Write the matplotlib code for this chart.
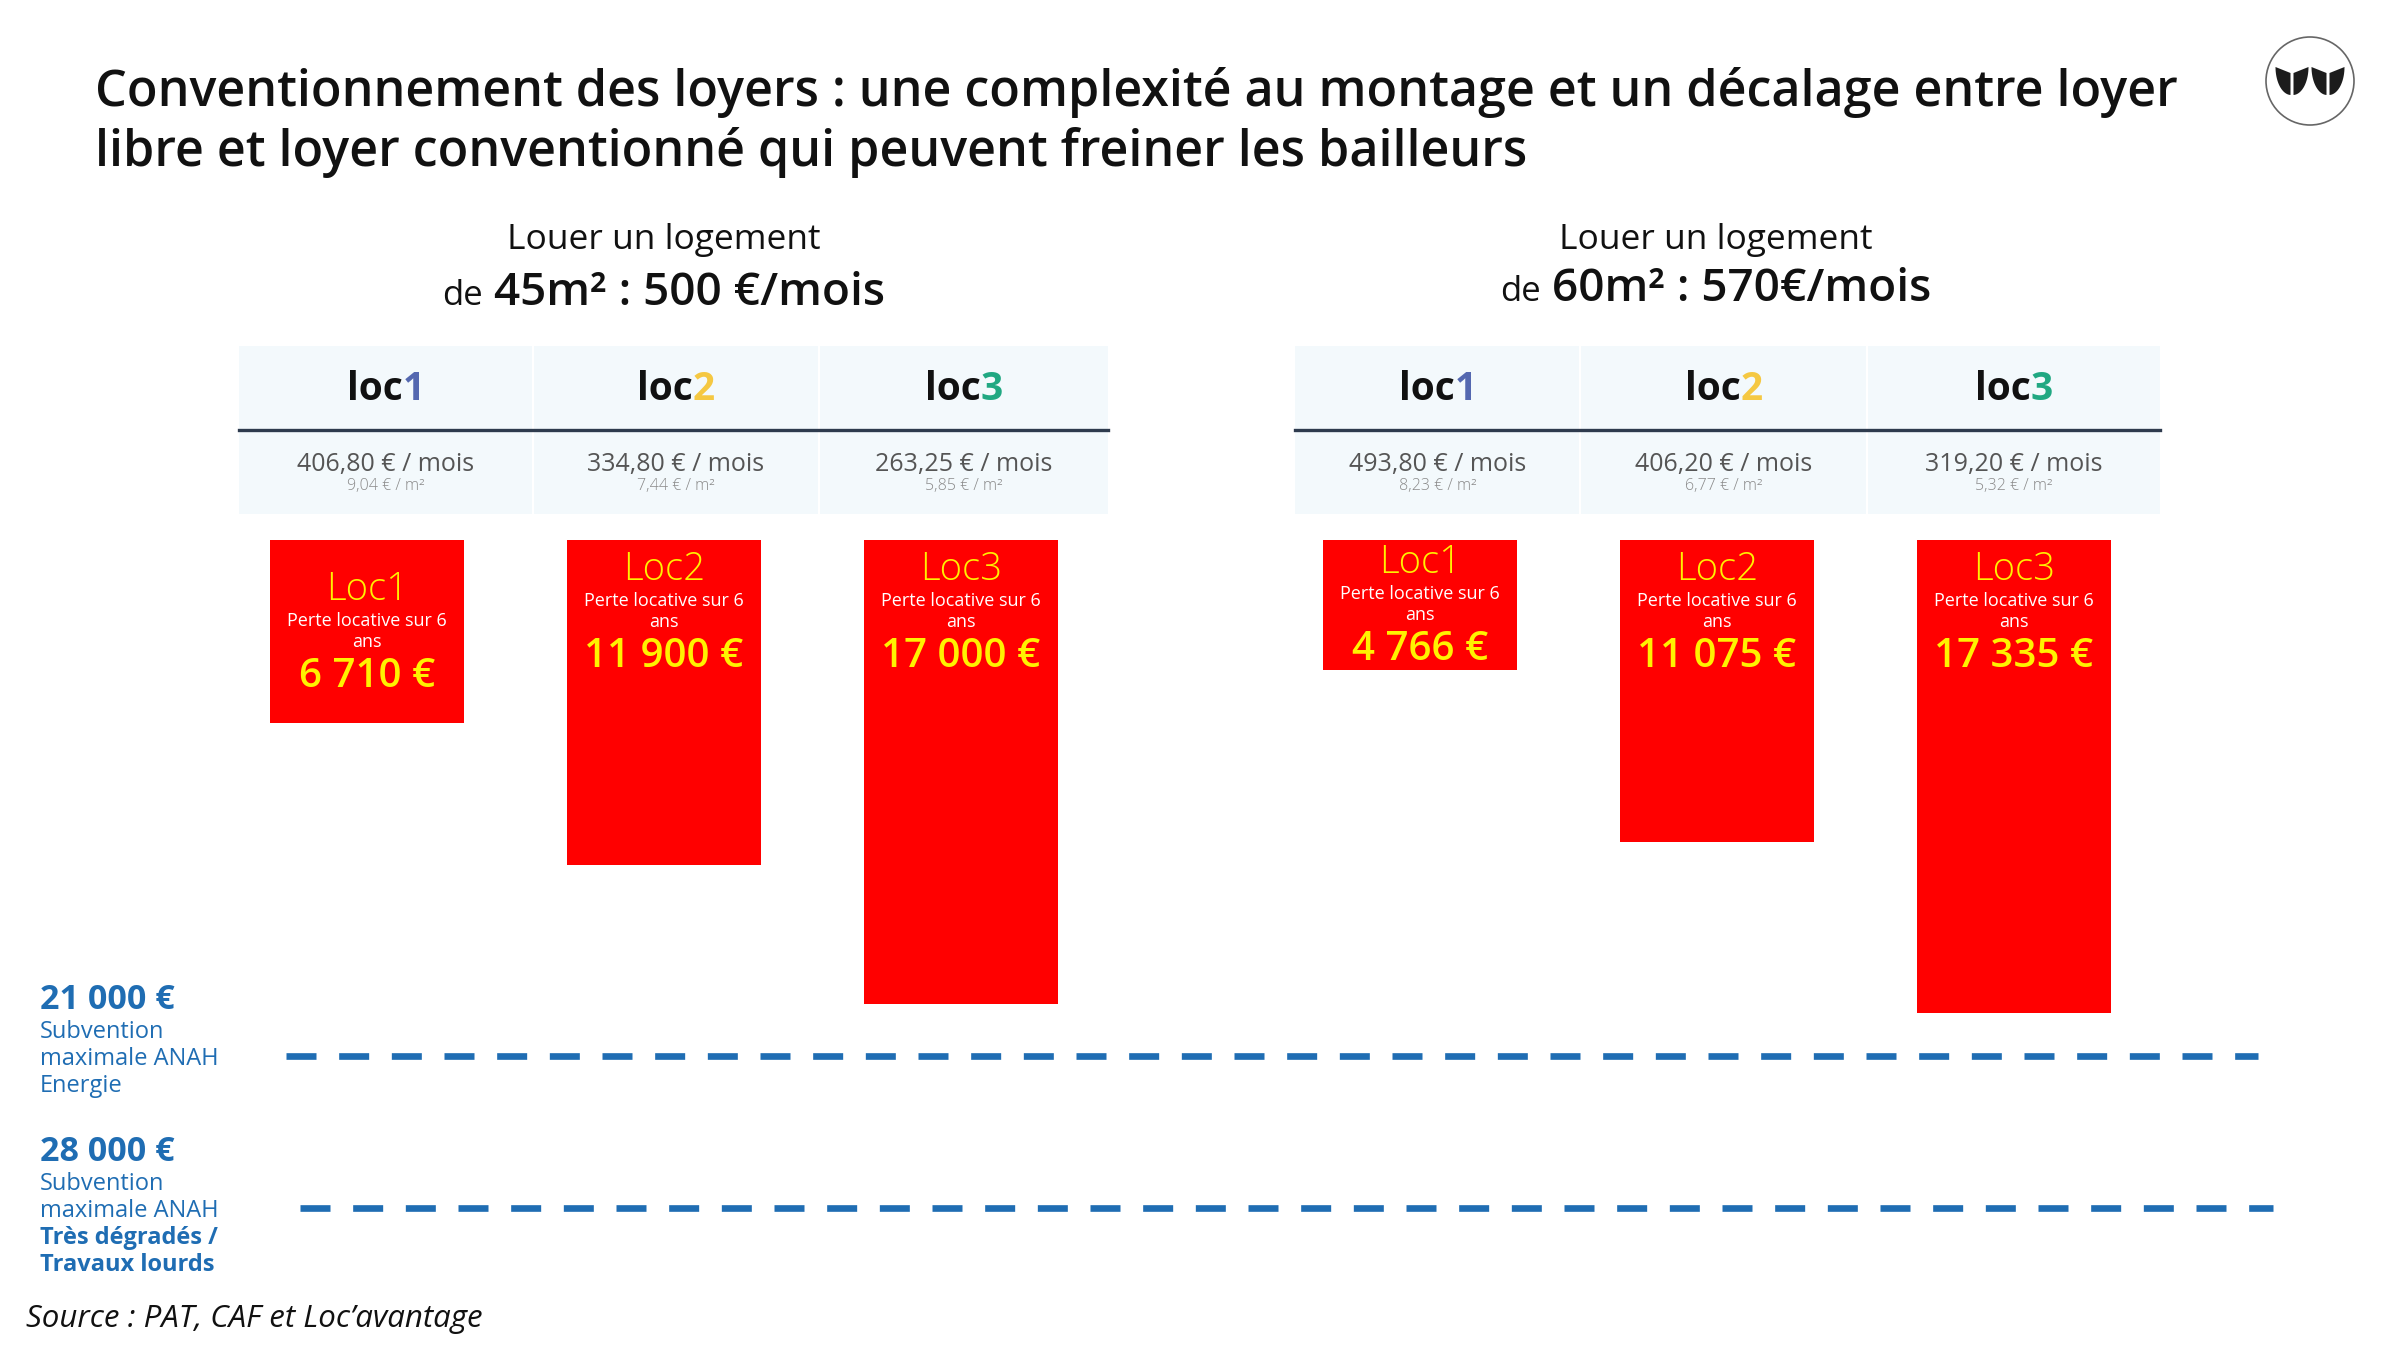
import numpy as np
import matplotlib
matplotlib.use('Agg')
import matplotlib.pyplot as plt
from matplotlib.patches import Rectangle, Circle, Polygon

plt.rcParams['font.family'] = ['Open Sans', 'DejaVu Sans']

# ---- data ----
title_lines = ['Conventionnement des loyers : une complexité au montage et un décalage entre loyer',
               'libre et loyer conventionné qui peuvent freiner les bailleurs']
section_top = 'Louer un logement'
section_sizes = ['45m² : 500 €/mois', '60m² : 570€/mois']
loc_names = ['loc', 'loc', 'loc']
loc_digits = ['1', '2', '3']
loc_digit_colors = ['#5468B0', '#F5C842', '#20A882']
bar_titles = ['Loc1', 'Loc2', 'Loc3']
rent_month_45 = [406.80, 334.80, 263.25]
rent_m2_45 = [9.04, 7.44, 5.85]
rent_month_60 = [493.80, 406.20, 319.20]
rent_m2_60 = [8.23, 6.77, 5.32]
loss_45 = [6710, 11900, 17000]
loss_60 = [4766, 11075, 17335]
subsidy_values = [21000, 28000]
subsidy_lines = [['Subvention', 'maximale ANAH', 'Energie'],
                 ['Subvention', 'maximale ANAH', 'Très dégradés /', 'Travaux lourds']]
subsidy_bold = [[False, False, False], [False, False, True, True]]
source = 'Source : PAT, CAF et Loc’avantage'

W, H = 2400, 1350
fig = plt.figure(figsize=(24, 13.5), dpi=100)
fig.patch.set_facecolor('white')
R = fig.canvas.get_renderer()


def fx(px):
    return px / W


def fy(py):
    return 1 - py / H


def fmt_dec(v):
    return f'{v:.2f}'.replace('.', ',')


def fmt_eur(v):
    return f'{v:,}'.replace(',', ' ') + ' €'


def parts_centered(xc, y, parts, gap=0):
    # several text pieces on one baseline, centred as a group
    texts, widths = [], []
    for s, kw in parts:
        t = fig.text(0, fy(y), s, ha='left', va='baseline', **kw)
        texts.append(t)
        widths.append(t.get_window_extent(R).width)
    total = sum(widths) + gap * (len(parts) - 1)
    cur = xc - total / 2
    for t, w in zip(texts, widths):
        t.set_x(fx(cur))
        cur += w + gap


# ---- title (size fitted to the reference line width) ----
t0 = fig.text(fx(95), fy(92), title_lines[0], fontsize=30, fontweight='semibold',
              color='#111111', va='center', ha='left')
title_size = 30 * (2180 - 95) / t0.get_window_extent(R).width
t0.set_fontsize(title_size)
fig.text(fx(95), fy(153), title_lines[1], fontsize=title_size, fontweight='semibold',
         color='#111111', va='center', ha='left')

# ---- logo ----
lax = fig.add_axes([fx(2260), fy(131), 100 / W, 100 / H])
lax.set_xlim(-1, 1)
lax.set_ylim(-1, 1)
lax.set_aspect('equal')
lax.axis('off')
lax.add_patch(Circle((0, 0), 0.88, facecolor='white', edgecolor='#666666', lw=1.2))
th = np.linspace(0, np.pi / 2, 20)
for cx in (-0.36, 0.36):
    for side in (-1, 1):
        xs = cx + side * (0.33 - 0.31 * (1 - np.cos(th)))
        ys = 0.28 - 0.56 * np.sin(th)
        pts = np.column_stack([xs, ys])
        pts = np.vstack([pts, [cx + side * 0.03, -0.28], [cx + side * 0.03, 0.16]])
        lax.add_patch(Polygon(pts, closed=True, color='#1c1c1c', lw=0))

# ---- section headings and tables ----
tables = [(239, 1108, 533, 819), (1295, 2160, 1580, 1867)]
heading_x = [664, 1716]
heading_y = [305, 301]
rents = [(rent_month_45, rent_m2_45), (rent_month_60, rent_m2_60)]
for g, (x0, x1, b1, b2) in enumerate(tables):
    fig.text(fx(heading_x[g]), fy(240), section_top, fontsize=25.5, ha='center',
             va='center', color='#111111')
    parts_centered(heading_x[g], heading_y[g],
                   [('de', dict(fontsize=25, color='#111111')),
                    (section_sizes[g], dict(fontsize=33, fontweight='semibold', color='#111111'))],
                   gap=11)
    fig.add_artist(Rectangle((fx(x0), fy(514)), (x1 - x0) / W, 168 / H,
                             transform=fig.transFigure, facecolor='#F3F9FC', edgecolor='none'))
    for b in (b1, b2):
        fig.add_artist(plt.Line2D([fx(b), fx(b)], [fy(346), fy(514)], color='white', lw=1.5))
    fig.add_artist(plt.Line2D([fx(x0), fx(x1)], [fy(430), fy(430)], color='#2E3B4E', lw=2.4))
    bounds = [x0, b1, b2, x1]
    months, m2 = rents[g]
    for i in range(3):
        xc = (bounds[i] + bounds[i + 1]) / 2
        parts_centered(xc, 400, [(loc_names[i], dict(fontsize=28, fontweight='bold', color='#111111')),
                                 (loc_digits[i], dict(fontsize=28, fontweight='bold',
                                                      color=loc_digit_colors[i]))])
        fig.text(fx(xc), fy(465), f'{fmt_dec(months[i])} € / mois', fontsize=18,
                 color='#555555', ha='center', va='center')
        fig.text(fx(xc), fy(486), f'{fmt_dec(m2[i])} € / m²', fontsize=11.5,
                 fontweight='light', color='#8A8A8A', ha='center', va='center')

# ---- red bars (hanging down from the tables) ----
px_per_eur = 0.0273
ax = fig.add_axes([0, fy(1050), 1, 510 / H])
ax.axis('off')
ax.set_xlim(-367 / 297, (W - 367) / 297)
ax.set_ylim(510 / px_per_eur, 0)
group_step = 1053 / 297
pt = 0.72
for g, losses in enumerate([loss_45, loss_60]):
    xs = g * group_step + np.arange(3)
    ax.bar(xs, losses, width=0.65, color='#FF0000')
    for x, v, name in zip(xs, losses, bar_titles):
        # short bars: text block centred, tall bars: text near the top
        c = v / 2 if v < 8000 else 2640
        ax.annotate(name, (x, c), xytext=(0, 42 * pt), textcoords='offset points',
                    ha='center', va='center', fontsize=27.5, fontweight='light', color='#FFF200')
        ax.annotate('Perte locative sur 6', (x, c), xytext=(0, 11 * pt), textcoords='offset points',
                    ha='center', va='center', fontsize=13, color='white')
        ax.annotate('ans', (x, c), xytext=(0, -10 * pt), textcoords='offset points',
                    ha='center', va='center', fontsize=13, color='white')
        ax.annotate(fmt_eur(v), (x, c), xytext=(0, -45 * pt), textcoords='offset points',
                    ha='center', va='center', fontsize=29, fontweight='semibold', color='#FFF200')

# ---- ANAH subsidy reference lines (schematic scale) ----
blue = '#1F6DB3'
ax2 = fig.add_axes([0, fy(1300), 1, 700 / H])
ax2.axis('off')
ax2.set_xlim(0, 1)
ax2.set_ylim(700 / 0.021714, 0)
line_spans = [(0.119, 0.941), (0.125, 0.947)]
for k, v in enumerate(subsidy_values):
    ax2.hlines(v, *line_spans[k], colors=blue, lw=4.8, linestyles=(0, (4.5, 3.4)))
    ax2.annotate(fmt_eur(v), (fx(40), v), xytext=(0, 56 * pt), textcoords='offset points',
                 ha='left', va='center', fontsize=24.5, fontweight='bold', color=blue)
    for j, (s, b) in enumerate(zip(subsidy_lines[k], subsidy_bold[k])):
        ax2.annotate(s, (fx(40), v), xytext=(0, (24 - 27 * j) * pt), textcoords='offset points',
                     ha='left', va='center', fontsize=17, color=blue,
                     fontweight='bold' if b else 'normal')

fig.text(fx(26), fy(1319), source, fontsize=22.5, style='italic', color='#111111',
         ha='left', va='center')

fig.savefig('out.png', dpi=100, facecolor='white')
